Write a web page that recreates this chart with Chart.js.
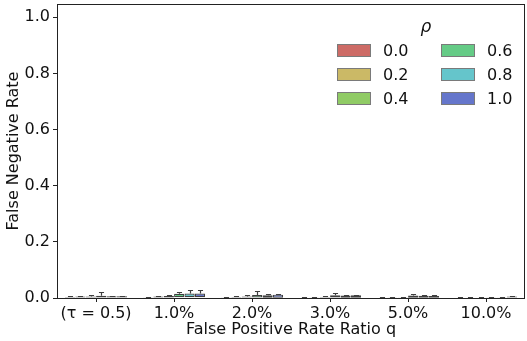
<!DOCTYPE html>
<html>
<head>
<meta charset="utf-8">
<script src="https://cdn.jsdelivr.net/npm/chart.js@4"></script>
<style>
  html, body { margin: 0; padding: 0; background: #fff; }
  #wrap { position: relative; width: 527px; height: 341px; }
  #legend {
    position: absolute; left: 330px; top: 16px; width: 190px;
    font-family: "DejaVu Sans", sans-serif; font-size: 16px; color: #111;
  }
  #legend .title { text-align: center; font-style: italic; font-size: 17px; margin-left: 2px; height: 28px; }
  #legend .grid { display: grid; grid-template-columns: 104px 80px; row-gap: 11px; }
  #legend .item { display: flex; align-items: center; height: 13px; }
  #legend .patch { width: 32px; height: 11px; border: 1px solid #7a7a7a; margin: 0 12px 0 7px; }
</style>
</head>
<body>
<div id="wrap">
  <canvas id="chart" width="527" height="341"></canvas>
  <div id="legend"></div>
</div>
<script>
(() => {
  const categories = ["(\u03c4 = 0.5)", "1.0%", "2.0%", "3.0%", "5.0%", "10.0%"];
  const rhoLabels = ["0.0", "0.2", "0.4", "0.6", "0.8", "1.0"];
  const rhoColors = ["#cd6b66", "#cbb966", "#90cb65", "#65cb86", "#65c5cb", "#6576cb"];
  const yTicks = [0, 0.2, 0.4, 0.6, 0.8, 1.0];

  // box bottom / box top / upper whisker, one row per rho
  const boxLow = [
    [0, 0, 0, 0, 0, 0],
    [0, 0, 0, 0, 0, 0],
    [0, 0, 0, 0, 0, 0],
    [0.002, 0.003, 0.002, 0.002, 0.001, 0],
    [0, 0.003, 0.001, 0.001, 0.001, 0],
    [0, 0.003, 0.001, 0.001, 0.001, 0],
  ];
  const boxHigh = [
    [0.004, 0.003, 0.003, 0.002, 0.002, 0.002],
    [0.005, 0.005, 0.004, 0.003, 0.003, 0.002],
    [0.005, 0.007, 0.005, 0.004, 0.003, 0.002],
    [0.008, 0.015, 0.011, 0.010, 0.009, 0.003],
    [0.006, 0.016, 0.010, 0.009, 0.008, 0.003],
    [0.006, 0.016, 0.012, 0.010, 0.007, 0.005],
  ];
  const whiskerTop = [
    [0.006, 0.005, 0.005, 0.003, 0.003, 0.003],
    [0.008, 0.008, 0.007, 0.005, 0.004, 0.003],
    [0.009, 0.011, 0.009, 0.007, 0.005, 0.004],
    [0.020, 0.022, 0.024, 0.019, 0.015, 0.005],
    [0.008, 0.030, 0.014, 0.012, 0.010, 0.005],
    [0.008, 0.030, 0.016, 0.012, 0.010, 0.008],
  ];

  const FONT = "DejaVu Sans";
  const EDGE = "#3f3f3f";

  const datasets = rhoLabels.map((r, i) => ({
    label: r,
    data: categories.map((c, j) => [boxLow[i][j], boxHigh[i][j]]),
    backgroundColor: rhoColors[i],
    borderColor: EDGE,
    borderWidth: 1.2,
    borderSkipped: false,
    categoryPercentage: 0.8,
    barPercentage: 0.98,
  }));

  const whiskers = {
    id: "whiskers",
    afterDatasetsDraw(chart) {
      const ctx = chart.ctx;
      const y = chart.scales.y;
      ctx.save();
      ctx.strokeStyle = EDGE;
      ctx.lineWidth = 1.2;
      datasets.forEach((ds, i) => {
        chart.getDatasetMeta(i).data.forEach((bar, j) => {
          const top = whiskerTop[i][j];
          if (top <= boxHigh[i][j]) return;
          const x = Math.round(bar.x) + 0.5;
          const y0 = y.getPixelForValue(boxHigh[i][j]);
          const y1 = Math.round(y.getPixelForValue(top)) + 0.5;
          const hw = bar.width / 4;
          ctx.beginPath();
          ctx.moveTo(x, y0);
          ctx.lineTo(x, y1);
          ctx.moveTo(x - hw, y1);
          ctx.lineTo(x + hw, y1);
          ctx.stroke();
        });
      });
      ctx.restore();
    },
  };

  const frame = {
    id: "frame",
    afterDraw(chart) {
      const { left, right, top, bottom } = chart.chartArea;
      const ctx = chart.ctx;
      ctx.save();
      ctx.strokeStyle = "#222";
      ctx.lineWidth = 1;
      ctx.strokeRect(Math.round(left) + 0.5, Math.round(top) + 0.5,
        Math.round(right - left) - 1, Math.round(bottom - top));
      ctx.restore();
    },
  };

  new Chart(document.getElementById("chart"), {
    type: "bar",
    data: { labels: categories, datasets },
    plugins: [whiskers, frame],
    options: {
      responsive: false,
      animation: false,
      layout: { padding: { top: 4, right: 2, left: 0, bottom: 0 } },
      plugins: { legend: { display: false }, tooltip: { enabled: false } },
      scales: {
        x: {
          grid: { display: true, drawOnChartArea: false, drawTicks: true, tickLength: 4, offset: false, color: "#222" },
          border: { display: false },
          ticks: { color: "#111", font: { family: FONT, size: 16 }, padding: 2, maxRotation: 0 },
          title: { display: true, text: "False Positive Rate Ratio q", color: "#111", font: { family: FONT, size: 16 }, padding: { top: 0, bottom: 2 } },
          afterFit: (s) => { s.height = 43; s.paddingLeft = 0; s.paddingRight = 0; },
        },
        y: {
          min: 0,
          max: 1.047,
          afterBuildTicks: (s) => { s.ticks = yTicks.map((v) => ({ value: v })); },
          grid: { display: true, drawOnChartArea: false, drawTicks: true, tickLength: 4, color: "#222" },
          border: { display: false },
          ticks: { color: "#111", font: { family: FONT, size: 16 }, padding: 3, callback: (v) => Number(v).toFixed(1) },
          title: { display: true, text: "False Negative Rate", color: "#111", font: { family: FONT, size: 16 }, padding: { bottom: 1 } },
          afterFit: (s) => { s.width = 57; s.paddingTop = 0; s.paddingBottom = 0; },
        },
      },
    },
  });

  // legend: two columns, filled column by column
  const legend = document.getElementById("legend");
  const order = [0, 3, 1, 4, 2, 5];
  legend.innerHTML = `<div class="title">\u03c1</div><div class="grid">${order
    .map((i) => `<div class="item"><span class="patch" style="background:${rhoColors[i]}"></span>${rhoLabels[i]}</div>`)
    .join("")}</div>`;
})();
</script>
</body>
</html>
